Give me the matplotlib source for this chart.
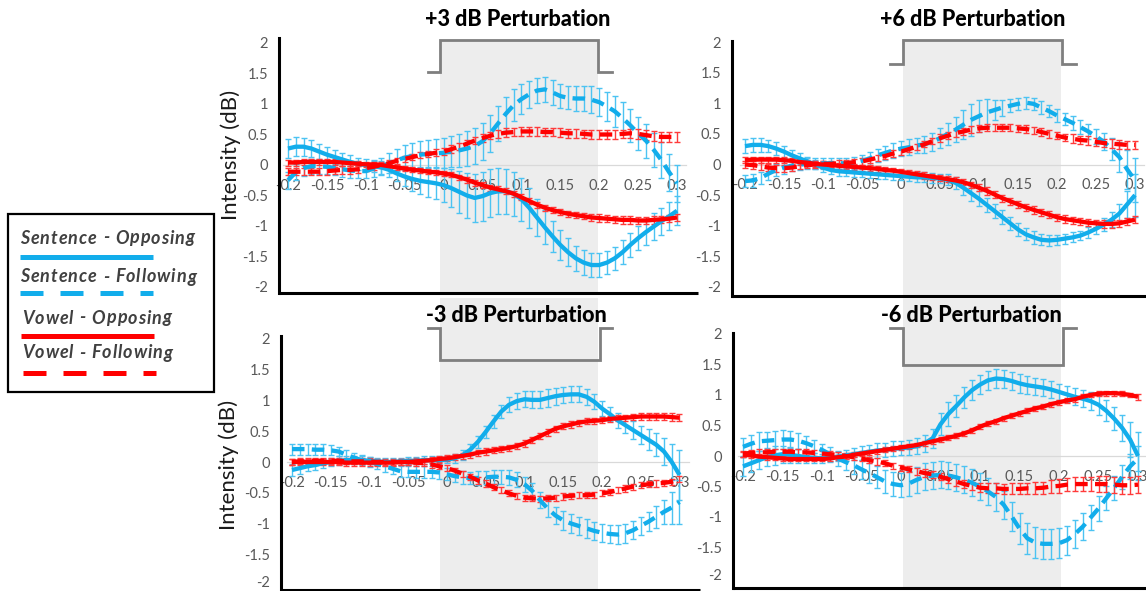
import numpy as np
import matplotlib
matplotlib.use("Agg")
import matplotlib.pyplot as plt
from matplotlib.patches import Rectangle
from matplotlib.transforms import ScaledTranslation

plt.rcParams['font.family'] = ['Lato', 'DejaVu Sans']

# ---------------- data ----------------
TIME = np.round(np.arange(-20, 31) / 100.0, 2)
XTICKS = [-0.2, -0.15, -0.1, -0.05, 0, 0.05, 0.1, 0.15, 0.2, 0.25, 0.3]
XTICK_LABELS = ['-0.2', '-0.15', '-0.1', '-0.05', '0', '0.05', '0.1', '0.15', '0.2', '0.25', '0.3']
YTICKS = [-2, -1.5, -1, -0.5, 0, 0.5, 1, 1.5, 2]
YTICK_LABELS = ['-2', '-1.5', '-1', '-0.5', '0', '0.5', '1', '1.5', '2']
SERIES_NAMES = ['Sentence - Opposing', 'Sentence - Following', 'Vowel - Opposing', 'Vowel - Following']
TITLES = ['+3 dB Perturbation', '+6 dB Perturbation', '-3 dB Perturbation', '-6 dB Perturbation']

# +3 dB
P3_SO = [0.27,0.30,0.30,0.27,0.22,0.17,0.13,0.09,0.05,0.02, 0.00,-0.02,-0.04,-0.08,-0.14,-0.19,-0.23,-0.26,-0.28,-0.30,
         -0.33,-0.38,-0.44,-0.50,-0.54,-0.51,-0.46,-0.43,-0.43,-0.47, -0.56,-0.70,-0.86,-1.02,-1.17,-1.31,-1.43,-1.53,-1.60,-1.64,
         -1.64,-1.60,-1.53,-1.43,-1.31,-1.20,-1.10,-1.01,-0.92,-0.84, -0.75]
P3_SF = [-0.25,-0.12,-0.05,-0.02,-0.02,-0.03,-0.05,-0.07,-0.09,-0.10, -0.10,-0.06,-0.02,0.03,0.08,0.12,0.15,0.17,0.18,0.19,
         0.20,0.22,0.24,0.27,0.31,0.39,0.52,0.68,0.84,0.98, 1.08,1.16,1.22,1.24,1.19,1.13,1.10,1.09,1.09,1.07,
         1.03,0.96,0.88,0.77,0.65,0.52,0.40,0.25,0.08,-0.12, -0.30]
P3_VO = [0.04,0.04,0.05,0.05,0.05,0.05,0.05,0.04,0.03,0.02, 0.01,0.01,0.00,-0.02,-0.04,-0.06,-0.08,-0.09,-0.11,-0.12,
         -0.14,-0.16,-0.20,-0.24,-0.29,-0.33,-0.37,-0.40,-0.43,-0.47, -0.53,-0.59,-0.65,-0.70,-0.74,-0.77,-0.80,-0.82,-0.84,-0.86,
         -0.87,-0.88,-0.89,-0.90,-0.90,-0.91,-0.91,-0.90,-0.89,-0.88, -0.86]
P3_VF = [-0.11,-0.11,-0.11,-0.11,-0.11,-0.10,-0.09,-0.08,-0.08,-0.07, -0.05,-0.03,0.00,0.03,0.07,0.10,0.13,0.16,0.18,0.20,
         0.22,0.26,0.30,0.35,0.40,0.44,0.48,0.51,0.53,0.54, 0.55,0.55,0.55,0.54,0.54,0.53,0.52,0.52,0.51,0.50,
         0.50,0.50,0.50,0.51,0.52,0.51,0.49,0.47,0.46,0.46, 0.46]
P3_SO_ERR = [0.16,0.16,0.15,0.14,0.13,0.12,0.12,0.11,0.11,0.10, 0.10,0.10,0.10,0.11,0.13,0.16,0.19,0.22,0.24,0.26,
             0.28,0.31,0.34,0.37,0.39,0.40,0.40,0.38,0.37,0.36, 0.35,0.33,0.30,0.28,0.26,0.25,0.23,0.21,0.20,0.19,
             0.19,0.19,0.19,0.20,0.20,0.20,0.21,0.22,0.22,0.23, 0.24]
P3_SF_ERR = [0.14,0.13,0.13,0.12,0.12,0.12,0.12,0.12,0.12,0.12, 0.12,0.13,0.14,0.16,0.18,0.20,0.21,0.22,0.23,0.24,
             0.25,0.26,0.27,0.28,0.29,0.30,0.30,0.29,0.28,0.26, 0.24,0.22,0.21,0.21,0.20,0.19,0.19,0.20,0.21,0.22,
             0.23,0.24,0.25,0.26,0.27,0.27,0.28,0.28,0.29,0.30, 0.30]
P3_VO_ERR = [0.05,0.05,0.05,0.05,0.05,0.05,0.05,0.05,0.04,0.04, 0.04,0.04,0.04,0.04,0.04,0.04,0.04,0.04,0.04,0.04,
             0.04,0.04,0.04,0.05,0.05,0.05,0.05,0.05,0.05,0.05, 0.05,0.05,0.05,0.05,0.05,0.05,0.05,0.05,0.05,0.05,
             0.06,0.06,0.06,0.06,0.06,0.06,0.06,0.06,0.06,0.06, 0.06]
P3_VF_ERR = [0.06,0.06,0.06,0.06,0.06,0.06,0.06,0.06,0.06,0.06, 0.05,0.05,0.05,0.05,0.05,0.05,0.05,0.05,0.05,0.06,
             0.06,0.06,0.06,0.06,0.06,0.06,0.06,0.07,0.07,0.07, 0.07,0.07,0.07,0.07,0.07,0.07,0.07,0.07,0.07,0.07,
             0.07,0.07,0.07,0.07,0.07,0.08,0.08,0.08,0.08,0.08, 0.08]

# +6 dB
P6_SO = [0.30,0.32,0.32,0.30,0.26,0.21,0.15,0.10,0.05,0.00, -0.05,-0.09,-0.11,-0.12,-0.13,-0.14,-0.15,-0.16,-0.17,-0.18,
         -0.19,-0.20,-0.21,-0.21,-0.22,-0.23,-0.25,-0.30,-0.38,-0.47, -0.56,-0.66,-0.76,-0.86,-0.96,-1.06,-1.14,-1.19,-1.23,-1.24,
         -1.23,-1.21,-1.19,-1.16,-1.11,-1.05,-0.98,-0.90,-0.80,-0.65, -0.50]
P6_SF = [-0.27,-0.26,-0.22,-0.15,-0.09,-0.05,-0.02,0.00,0.01,0.02, 0.02,0.02,0.02,0.02,0.03,0.06,0.10,0.15,0.19,0.23,
         0.26,0.28,0.31,0.33,0.37,0.43,0.50,0.57,0.65,0.73, 0.79,0.85,0.89,0.93,0.96,0.99,1.01,0.99,0.93,0.87,
         0.80,0.74,0.68,0.61,0.54,0.46,0.37,0.25,0.12,-0.08, -0.26]
P6_VO = [0.07,0.08,0.08,0.08,0.08,0.07,0.06,0.04,0.03,0.01, 0.00,-0.01,-0.02,-0.03,-0.04,-0.05,-0.06,-0.07,-0.09,-0.10,
         -0.12,-0.14,-0.16,-0.18,-0.20,-0.22,-0.24,-0.26,-0.29,-0.33, -0.38,-0.43,-0.49,-0.55,-0.60,-0.65,-0.70,-0.74,-0.78,-0.82,
         -0.86,-0.89,-0.91,-0.93,-0.95,-0.96,-0.97,-0.97,-0.96,-0.93, -0.90]
P6_VF = [0.00,-0.01,-0.03,-0.05,-0.06,-0.06,-0.05,-0.03,-0.01,0.00, 0.01,0.01,0.02,0.02,0.04,0.05,0.08,0.11,0.14,0.18,
         0.21,0.25,0.29,0.33,0.38,0.43,0.47,0.51,0.54,0.57, 0.59,0.60,0.60,0.60,0.60,0.59,0.58,0.56,0.53,0.50,
         0.47,0.44,0.42,0.40,0.39,0.37,0.35,0.34,0.33,0.32, 0.32]
P6_SO_ERR = [0.11,0.11,0.11,0.10,0.10,0.10,0.09,0.09,0.08,0.08, 0.07,0.07,0.07,0.07,0.07,0.07,0.07,0.07,0.07,0.07,
             0.07,0.07,0.08,0.08,0.08,0.08,0.09,0.10,0.11,0.12, 0.12,0.12,0.12,0.11,0.11,0.10,0.10,0.10,0.09,0.09,
             0.08,0.08,0.08,0.08,0.09,0.09,0.10,0.12,0.15,0.22, 0.35]
P6_SF_ERR = [0.10,0.10,0.10,0.10,0.10,0.10,0.09,0.09,0.09,0.09, 0.09,0.09,0.09,0.09,0.10,0.10,0.11,0.11,0.12,0.12,
             0.12,0.13,0.13,0.14,0.15,0.16,0.18,0.21,0.24,0.26, 0.26,0.22,0.17,0.13,0.11,0.10,0.10,0.10,0.10,0.10,
             0.10,0.10,0.11,0.11,0.12,0.12,0.14,0.18,0.24,0.32, 0.36]
P6_VO_ERR = [0.05,0.05,0.05,0.05,0.05,0.05,0.05,0.05,0.05,0.05, 0.05,0.05,0.05,0.05,0.05,0.05,0.05,0.05,0.05,0.05,
             0.05,0.05,0.05,0.05,0.05,0.05,0.05,0.05,0.05,0.05, 0.06,0.06,0.06,0.06,0.06,0.06,0.06,0.06,0.06,0.06,
             0.06,0.06,0.06,0.06,0.06,0.06,0.06,0.06,0.06,0.06, 0.06]
P6_VF_ERR = [0.06,0.06,0.06,0.06,0.06,0.06,0.05,0.05,0.05,0.05, 0.05,0.05,0.05,0.05,0.05,0.05,0.05,0.05,0.05,0.05,
             0.05,0.05,0.05,0.05,0.05,0.06,0.06,0.06,0.06,0.06, 0.06,0.06,0.06,0.06,0.06,0.06,0.06,0.06,0.06,0.06,
             0.06,0.06,0.07,0.07,0.07,0.07,0.07,0.07,0.07,0.07, 0.07]

# -3 dB
M3_SO = [-0.13,-0.10,-0.07,-0.05,-0.02,0.00,0.02,0.03,0.03,0.03, 0.02,0.01,0.00,0.00,0.01,0.02,0.02,0.03,0.03,0.03,
         0.04,0.06,0.11,0.20,0.33,0.49,0.66,0.82,0.93,0.99, 1.02,1.01,1.01,1.04,1.07,1.09,1.10,1.10,1.06,0.98,
         0.87,0.78,0.68,0.60,0.52,0.44,0.36,0.28,0.17,0.00, -0.21]
M3_SF = [0.21,0.21,0.21,0.20,0.20,0.19,0.17,0.12,0.07,0.03, 0.00,-0.03,-0.07,-0.11,-0.15,-0.16,-0.16,-0.16,-0.16,-0.17,
         -0.20,-0.23,-0.25,-0.26,-0.26,-0.25,-0.24,-0.24,-0.25,-0.29, -0.36,-0.47,-0.62,-0.76,-0.87,-0.95,-1.00,-1.04,-1.08,-1.12,
         -1.15,-1.17,-1.18,-1.16,-1.11,-1.04,-0.97,-0.89,-0.81,-0.74, -0.65]
M3_VO = [0.00,0.00,0.00,0.00,0.00,0.00,0.00,-0.01,-0.01,-0.01, -0.01,-0.01,-0.01,-0.01,0.00,0.00,0.01,0.02,0.03,0.05,
         0.06,0.08,0.10,0.12,0.15,0.17,0.19,0.21,0.23,0.26, 0.30,0.36,0.42,0.48,0.54,0.58,0.61,0.64,0.66,0.67,
         0.68,0.70,0.71,0.72,0.73,0.74,0.74,0.74,0.74,0.73, 0.72]
M3_VF = [0.00,0.01,0.01,0.02,0.02,0.02,0.02,0.01,0.01,0.01, 0.01,0.00,0.00,0.00,0.00,0.00,-0.01,-0.02,-0.04,-0.07,
         -0.10,-0.14,-0.19,-0.24,-0.30,-0.35,-0.41,-0.46,-0.51,-0.55, -0.58,-0.59,-0.60,-0.59,-0.58,-0.56,-0.55,-0.54,-0.54,-0.53,
         -0.51,-0.49,-0.46,-0.43,-0.40,-0.38,-0.36,-0.35,-0.34,-0.32, -0.28]
M3_SO_ERR = [0.09,0.09,0.08,0.08,0.07,0.07,0.07,0.06,0.06,0.06, 0.06,0.06,0.06,0.06,0.06,0.06,0.06,0.06,0.06,0.06,
             0.06,0.07,0.08,0.09,0.10,0.10,0.11,0.11,0.12,0.13, 0.13,0.14,0.14,0.14,0.14,0.13,0.13,0.13,0.13,0.12,
             0.12,0.12,0.12,0.13,0.14,0.15,0.17,0.19,0.22,0.30, 0.40]
M3_SF_ERR = [0.09,0.09,0.09,0.09,0.09,0.08,0.08,0.08,0.08,0.08, 0.08,0.08,0.09,0.09,0.09,0.09,0.10,0.10,0.10,0.10,
             0.10,0.10,0.10,0.10,0.11,0.11,0.11,0.11,0.12,0.12, 0.12,0.13,0.13,0.14,0.14,0.15,0.15,0.15,0.15,0.15,
             0.15,0.15,0.15,0.15,0.15,0.15,0.16,0.18,0.20,0.26, 0.35]
M3_VO_ERR = [0.05,0.05,0.05,0.05,0.05,0.05,0.05,0.05,0.05,0.05, 0.05,0.05,0.05,0.05,0.05,0.05,0.05,0.05,0.05,0.05,
             0.05,0.05,0.05,0.05,0.05,0.05,0.05,0.05,0.05,0.05, 0.05,0.05,0.05,0.05,0.05,0.05,0.05,0.05,0.05,0.05,
             0.05,0.05,0.05,0.05,0.05,0.06,0.06,0.06,0.06,0.06, 0.06]
M3_VF_ERR = [0.05,0.05,0.05,0.05,0.05,0.05,0.05,0.05,0.05,0.05, 0.05,0.05,0.05,0.05,0.05,0.05,0.05,0.05,0.05,0.05,
             0.05,0.05,0.05,0.05,0.05,0.05,0.05,0.05,0.05,0.05, 0.05,0.05,0.05,0.05,0.05,0.05,0.05,0.05,0.05,0.05,
             0.05,0.05,0.05,0.05,0.05,0.05,0.05,0.05,0.05,0.05, 0.05]

# -6 dB
M6_SO = [-0.17,-0.12,-0.07,-0.02,0.01,0.03,0.02,0.00,-0.02,-0.03, -0.04,-0.03,-0.01,0.01,0.03,0.05,0.07,0.09,0.10,0.12,
         0.13,0.14,0.16,0.21,0.29,0.52,0.69,0.82,0.96,1.08, 1.17,1.24,1.27,1.26,1.23,1.19,1.16,1.14,1.12,1.09,
         1.05,1.01,0.97,0.94,0.90,0.84,0.74,0.61,0.46,0.27, 0.00]
M6_SF = [0.15,0.20,0.24,0.25,0.26,0.27,0.27,0.25,0.21,0.16, 0.10,0.03,-0.04,-0.10,-0.15,-0.22,-0.28,-0.35,-0.42,-0.46,
         -0.48,-0.45,-0.39,-0.34,-0.32,-0.31,-0.32,-0.35,-0.39,-0.44, -0.50,-0.58,-0.67,-0.80,-0.99,-1.19,-1.35,-1.42,-1.44,-1.44,
         -1.43,-1.38,-1.28,-1.16,-1.01,-0.86,-0.69,-0.52,-0.34,-0.17, -0.04]
M6_VO = [0.02,0.01,-0.01,-0.02,-0.03,-0.04,-0.05,-0.05,-0.05,-0.05, -0.05,-0.04,-0.02,-0.01,0.02,0.04,0.06,0.08,0.10,0.12,
         0.14,0.16,0.18,0.21,0.24,0.27,0.30,0.33,0.37,0.42, 0.48,0.53,0.57,0.62,0.66,0.70,0.74,0.78,0.81,0.85,
         0.88,0.91,0.93,0.97,1.00,1.02,1.03,1.03,1.02,1.00, 0.97]
M6_VF = [0.04,0.05,0.06,0.06,0.07,0.07,0.07,0.06,0.06,0.05, 0.04,0.03,0.02,0.00,-0.02,-0.04,-0.07,-0.09,-0.12,-0.16,
         -0.19,-0.22,-0.25,-0.28,-0.30,-0.34,-0.38,-0.42,-0.46,-0.49, -0.52,-0.53,-0.53,-0.54,-0.54,-0.54,-0.53,-0.53,-0.52,-0.50,
         -0.49,-0.47,-0.46,-0.46,-0.46,-0.46,-0.46,-0.47,-0.48,-0.48, -0.47]
M6_SO_ERR = [0.15,0.15,0.15,0.15,0.15,0.14,0.13,0.11,0.09,0.08, 0.07,0.07,0.08,0.09,0.10,0.11,0.11,0.12,0.12,0.12,
             0.12,0.12,0.13,0.14,0.16,0.18,0.19,0.18,0.17,0.16, 0.15,0.15,0.15,0.15,0.15,0.15,0.15,0.14,0.14,0.14,
             0.13,0.13,0.14,0.14,0.15,0.16,0.17,0.19,0.21,0.28, 0.40]
M6_SF_ERR = [0.15,0.15,0.15,0.15,0.15,0.15,0.14,0.13,0.12,0.11, 0.10,0.11,0.12,0.13,0.14,0.15,0.16,0.18,0.19,0.20,
             0.20,0.21,0.21,0.22,0.22,0.22,0.22,0.22,0.22,0.22, 0.22,0.22,0.23,0.23,0.24,0.25,0.25,0.25,0.25,0.25,
             0.25,0.24,0.23,0.22,0.21,0.20,0.20,0.20,0.20,0.20, 0.20]
M6_VO_ERR = [0.04,0.04,0.04,0.04,0.04,0.04,0.04,0.04,0.04,0.04, 0.04,0.04,0.04,0.04,0.04,0.04,0.04,0.04,0.04,0.04,
             0.04,0.04,0.04,0.04,0.04,0.04,0.04,0.04,0.04,0.04, 0.04,0.04,0.04,0.04,0.04,0.04,0.04,0.04,0.04,0.04,
             0.04,0.04,0.04,0.04,0.04,0.04,0.04,0.04,0.04,0.04, 0.05]
M6_VF_ERR = [0.05,0.05,0.05,0.05,0.05,0.05,0.05,0.05,0.05,0.05, 0.05,0.05,0.05,0.05,0.05,0.05,0.05,0.05,0.05,0.05,
             0.05,0.05,0.06,0.06,0.06,0.06,0.06,0.07,0.07,0.07, 0.07,0.08,0.08,0.08,0.09,0.09,0.09,0.10,0.10,0.10,
             0.11,0.11,0.11,0.12,0.12,0.13,0.13,0.13,0.14,0.14, 0.14]

# ---------------- style ----------------
BLUE = '#12ADEB'
BLUE_ERR = '#4CC3F2'
RED = '#FF0000'
RED_ERR = '#FF3A3A'
SHADE = '#EDEDED'
IND_C = '#7F7F7F'
TICK_C = '#595959'
COLORS = [BLUE, BLUE, RED, RED]
ECOLORS = [BLUE_ERR, BLUE_ERR, RED_ERR, RED_ERR]
DASHED = [False, True, False, True]

W, H = 1146, 591
fig = plt.figure(figsize=(W / 100, H / 100), dpi=100)
renderer = fig.canvas.get_renderer()

# overlay in pixel coordinates (legend)
ov = fig.add_axes([0, 0, 1, 1])
ov.set_xlim(0, W)
ov.set_ylim(H, 0)
ov.axis('off')
ov.patch.set_alpha(0)

# layout per panel: axes box (L, R, T, B) px; px positions of x=0 / y=0 and px per unit
PANELS = [
    dict(series=(P3_SO, P3_SF, P3_VO, P3_VF), errs=(P3_SO_ERR, P3_SF_ERR, P3_VO_ERR, P3_VF_ERR),
         box=(279, 698, 38, 293), x0=443.6, ppx=778, y0=165, ppy=61,
         shade=(-0.005, 0.199), shade_top=40, ind_x=(-0.020, -0.005, 0.199, 0.217), ind_px=(72, 40),
         title_xy=(518, 19), ylabel=(231, 155)),
    dict(series=(P6_SO, P6_SF, P6_VO, P6_VF), errs=(P6_SO_ERR, P6_SF_ERR, P6_VO_ERR, P6_VF_ERR),
         box=(732, 1146, 41, 296), x0=901, ppx=780, y0=164.5, ppy=61.25,
         shade=(0.003, 0.205), shade_top=40, ind_x=(-0.014, 0.003, 0.206, 0.224), ind_px=(64, 40),
         title_xy=(973, 20), ylabel=None),
    dict(series=(M3_SO, M3_SF, M3_VO, M3_VF), errs=(M3_SO_ERR, M3_SF_ERR, M3_VO_ERR, M3_VF_ERR),
         box=(281, 700, 336, 590), x0=447, ppx=775, y0=462, ppy=61.5,
         shade=(-0.009, 0.195), shade_top=298, ind_x=(-0.025, -0.009, 0.197, 0.213), ind_px=(328, 360),
         title_xy=(516, 315), ylabel=(229, 465)),
    dict(series=(M6_SO, M6_SF, M6_VO, M6_VF), errs=(M6_SO_ERR, M6_SF_ERR, M6_VO_ERR, M6_VF_ERR),
         box=(733, 1146, 333, 588), x0=901, ppx=790, y0=456, ppy=61,
         shade=(0.003, 0.203), shade_top=298, ind_x=(-0.014, 0.003, 0.205, 0.222), ind_px=(328, 365),
         title_xy=(971, 316), ylabel=None),
]

for p, title in zip(PANELS, TITLES):
    L, R, T, B = p['box']
    ax = fig.add_axes([L / W, (H - B) / H, (R - L) / W, (B - T) / H])
    ax.patch.set_alpha(0)
    ax.set_xlim((L - p['x0']) / p['ppx'], (R - p['x0']) / p['ppx'])
    ax.set_ylim((p['y0'] - B) / p['ppy'], (p['y0'] - T) / p['ppy'])
    to_y = lambda py: (p['y0'] - py) / p['ppy']

    # perturbation window shading
    sx0, sx1 = p['shade']
    ybot = ax.get_ylim()[0]
    ax.add_patch(Rectangle((sx0, ybot), sx1 - sx0, to_y(p['shade_top']) - ybot,
                           facecolor=SHADE, edgecolor='none', zorder=0, clip_on=False))
    # perturbation indicator
    xl, xr, xf, xe = p['ind_x']
    yb, yt = to_y(p['ind_px'][0]), to_y(p['ind_px'][1])
    ax.plot([xl, xr, xr, xf, xf, xe], [yb, yb, yt, yt, yb, yb], color=IND_C, lw=2.0,
            clip_on=False, zorder=1, solid_joinstyle='miter')

    # series
    for vals, err, c, ec, dsh in zip(p['series'], p['errs'], COLORS, ECOLORS, DASHED):
        ax.errorbar(TIME, vals, yerr=err, fmt='none', ecolor=ec, elinewidth=1.0,
                    capsize=2.0, capthick=1.0, zorder=3, clip_on=False)
        ln, = ax.plot(TIME, vals, color=c, lw=3.1, zorder=4, clip_on=False,
                      solid_capstyle='butt')
        if dsh:
            ln.set_dashes((2.9, 1.7))
            ln.set_dash_capstyle('butt')

    # axes styling
    for s in ('top', 'right'):
        ax.spines[s].set_visible(False)
    ax.spines['left'].set_color('black')
    ax.spines['left'].set_linewidth(2.2)
    ax.spines['bottom'].set_position(('data', 0))
    ax.spines['bottom'].set_color('#D9D9D9')
    ax.spines['bottom'].set_linewidth(0.9)
    ax.spines['bottom'].set_bounds(TIME[0] - 0.006, TIME[-1] + 0.012)
    ax.spines['bottom'].set_zorder(2)
    ax.plot([0, 1], [0, 0], transform=ax.transAxes, color='black', lw=2.2,
            clip_on=False, solid_capstyle='butt')

    ax.set_yticks(YTICKS)
    ax.set_yticklabels(YTICK_LABELS)
    ax.set_xticks(XTICKS)
    ax.set_xticklabels(XTICK_LABELS)
    ax.tick_params(axis='y', length=0, pad=8, labelsize=10.5, labelcolor=TICK_C)
    ax.tick_params(axis='x', length=0, pad=10, labelsize=10.5, labelcolor=TICK_C)
    for lab in ax.get_xticklabels():
        lab.set_zorder(5)
    # keep the lowest y label inside the picture for the bottom panels
    if B > H - 10:
        ylabs = ax.get_yticklabels()
        ylabs[0].set_transform(ylabs[0].get_transform() +
                               ScaledTranslation(0, 3.5 / 100, fig.dpi_scale_trans))

    fig.text(p['title_xy'][0] / W, 1 - p['title_xy'][1] / H, title, ha='center', va='center',
             fontsize=15.5, fontweight='black', color='black')
    if p['ylabel'] is not None:
        fig.text(p['ylabel'][0] / W, 1 - p['ylabel'][1] / H, 'Intensity (dB)', rotation=90,
                 ha='center', va='center', fontsize=16, color='#1A1A1A')

# ---------------- legend ----------------
def tracked_text(x, y, s, extra_px, **kw):
    """Draw text with extra letter spacing, in overlay pixel coordinates."""
    probe = ov.text(0, 0, '|', **kw)
    bar_w = probe.get_window_extent(renderer).width
    probe.remove()
    for i, ch in enumerate(s):
        if ch == ' ':
            continue
        t = ov.text(0, 0, s[:i] + '|', **kw)
        w = t.get_window_extent(renderer).width - bar_w if i > 0 else 0.0
        t.remove()
        ov.text(x + w + i * extra_px, y, ch, ha='left', va='center', **kw)

ov.add_patch(Rectangle((8, 214), 206, 178, fill=False, edgecolor='black', lw=1.6))
LEG_TEXT_Y = [238, 277, 318, 353]
LEG_LINE_Y = [257, 293, 336, 373]
LEG_X = [(20, 153), (20, 153), (21, 154), (22.7, 156)]
for name, ty, ly, (x0, x1), c, dsh in zip(SERIES_NAMES, LEG_TEXT_Y, LEG_LINE_Y, LEG_X, COLORS, DASHED):
    tracked_text(20 if name.startswith('S') else 22, ty, name, 1.0,
                 fontsize=13, fontweight='bold', fontstyle='italic', color='#404040')
    ln, = ov.plot([x0, x1], [ly, ly], color=c, lw=3.6, solid_capstyle='butt')
    if dsh:
        ln.set_dashes((4.6, 3.4))
        ln.set_dash_capstyle('butt')

fig.savefig('out.png', dpi=100)
